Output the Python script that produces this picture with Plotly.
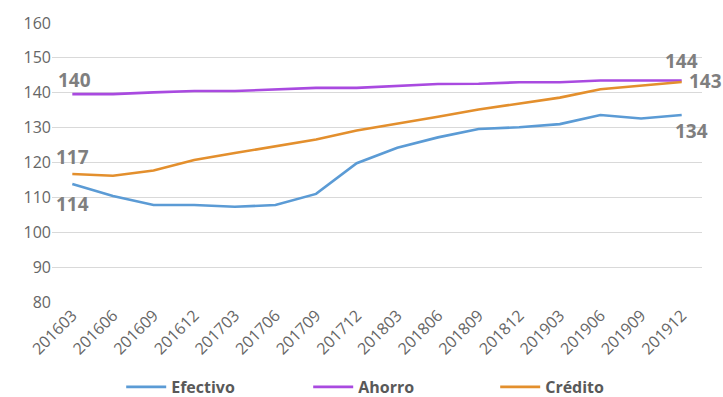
import plotly.graph_objects as go

periods = ["201603", "201606", "201609", "201612", "201703", "201706", "201709", "201712",
           "201803", "201806", "201809", "201812", "201903", "201906", "201909", "201912"]
efectivo = [113.8, 110.4, 107.8, 107.8, 107.3, 107.8, 111.0, 119.8,
            124.2, 127.2, 129.6, 130.1, 131.0, 133.6, 132.6, 133.6]
ahorro = [139.6, 139.6, 140.1, 140.5, 140.5, 140.9, 141.4, 141.4,
          142.0, 142.5, 142.6, 143.0, 143.0, 143.5, 143.5, 143.5]
credito = [116.7, 116.2, 117.7, 120.7, 122.7, 124.7, 126.6, 129.2,
           131.1, 133.1, 135.2, 137.0, 138.6, 141.0, 142.0, 143.1]

y_ticks = [80, 90, 100, 110, 120, 130, 140, 150, 160]

BLUE = "#5b9bd5"
PURPLE = "#a94ae0"
ORANGE = "#e38f2d"
FONT = "Open Sans"

# periods are placed on evenly spaced slots, labelled with the period codes
xpos = list(range(len(periods)))

fig = go.Figure()
for name, vals, color in [("Efectivo", efectivo, BLUE),
                          ("Ahorro", ahorro, PURPLE),
                          ("Crédito", credito, ORANGE)]:
    fig.add_trace(go.Scatter(x=xpos, y=vals, mode="lines", name=name,
                             line=dict(color=color, width=2.6)))

# value labels at the first and last period
label_font = dict(family=FONT, size=19, color="#7f7f7f")
def lab(x, v, xshift, yshift, xanchor="center"):
    fig.add_annotation(x=x, y=v, text=f"<b>{round(v)}</b>", showarrow=False,
                       xshift=xshift, yshift=yshift, xanchor=xanchor,
                       font=label_font)

first, last = xpos[0], xpos[-1]
lab(first, ahorro[0], 2, 14)
lab(first, credito[0], 0, 17)
lab(first, efectivo[0], 0, -20)
lab(last, ahorro[-1], 0, 20)
lab(last, credito[-1], 5, 1, xanchor="left")
lab(last, efectivo[-1], 10, -16)

fig.update_layout(
    width=723, height=397,
    margin=dict(l=52, r=21, t=23, b=95, autoexpand=False),
    paper_bgcolor="white", plot_bgcolor="white",
    font=dict(family=FONT, color="#595959"),
    showlegend=True,
    legend=dict(orientation="h", x=0.538, xanchor="center",
                yref="container", y=1 - 387 / 397, yanchor="middle",
                font=dict(family=FONT, size=16, color="#595959", weight="bold"),
                entrywidth=132, entrywidthmode="pixels", itemwidth=40),
    xaxis=dict(range=[-0.5, len(periods) - 0.5], tickvals=xpos, ticktext=periods,
               tickangle=-45, showgrid=False, showline=False, zeroline=False,
               automargin=False, ticks="", tickfont=dict(size=16, color="#666666")),
    yaxis=dict(range=[80, 160], tickvals=y_ticks, showgrid=True, gridcolor="#d9d9d9",
               gridwidth=1, zeroline=False, showline=False, ticks="", automargin=False,
               tickfont=dict(size=16, color="#666666")),
)

fig.write_html("out.html")
